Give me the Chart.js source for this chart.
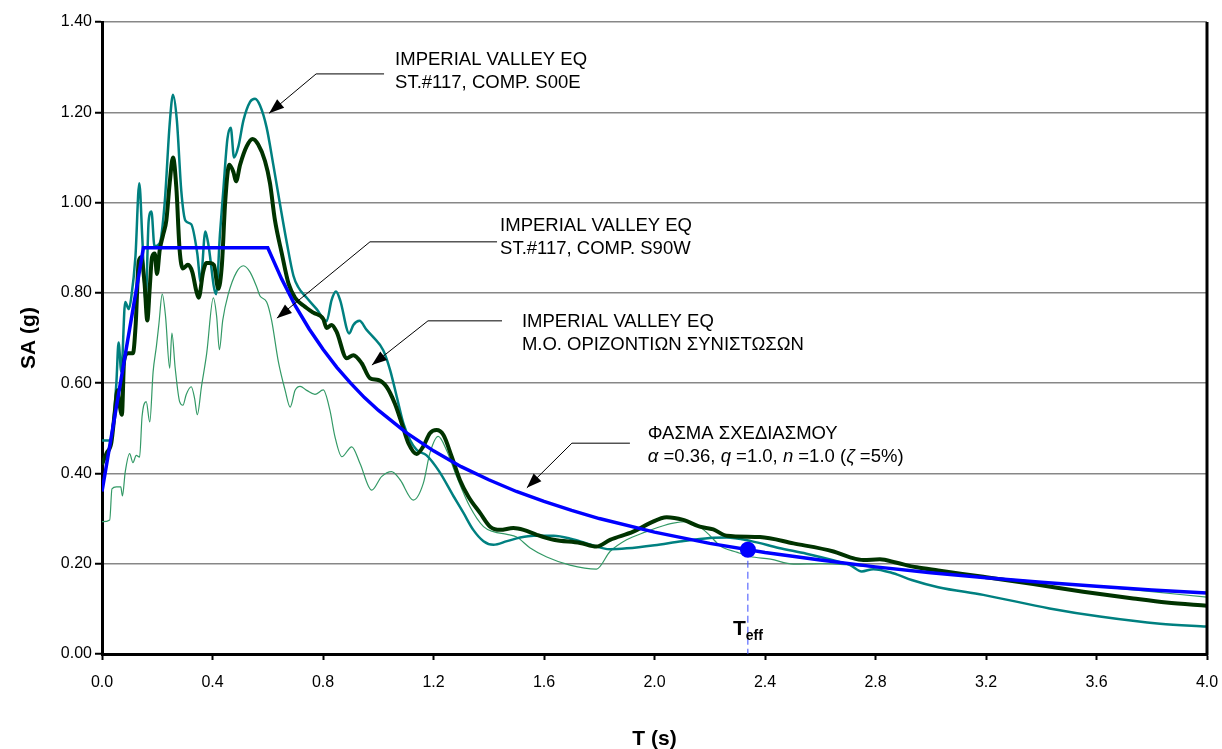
<!DOCTYPE html>
<html>
<head>
<meta charset="utf-8">
<script src="https://cdn.jsdelivr.net/npm/chart.js@4.4.0/dist/chart.umd.min.js"></script>
<style>
  html, body { margin: 0; padding: 0; background: #fff; }
  #wrap { width: 1222px; height: 749px; position: relative; }
</style>
</head>
<body>
<div id="wrap"><canvas id="chart"></canvas></div>
<script>
// ── Data ──────────────────────────────────────────────────────
const xTicks = [0, 0.4, 0.8, 1.2, 1.6, 2.0, 2.4, 2.8, 3.2, 3.6, 4.0];
const yTicks = [0, 0.2, 0.4, 0.6, 0.8, 1.0, 1.2, 1.4];

// Imperial Valley, St.#117, comp. S00E
const s00eT  = [0.000, 0.028, 0.040, 0.052, 0.060, 0.070, 0.084, 0.097, 0.106, 0.121, 0.135, 0.146, 0.158, 0.169, 0.179, 0.190, 0.209, 0.227, 0.245, 0.257, 0.271, 0.287, 0.302, 0.323, 0.345, 0.357, 0.374, 0.384, 0.413, 0.427, 0.439, 0.454, 0.466, 0.478, 0.494, 0.512, 0.536, 0.554, 0.572, 0.596, 0.620, 0.645, 0.669, 0.693, 0.710, 0.741, 0.777, 0.813, 0.831, 0.847, 0.862, 0.895, 0.910, 0.932, 0.958, 0.982, 1.018, 1.043, 1.067, 1.091, 1.115, 1.139, 1.175, 1.220, 1.272, 1.308, 1.344, 1.381, 1.417, 1.466, 1.514, 1.562, 1.635, 1.700, 1.760, 1.839, 1.900, 2.000, 2.100, 2.200, 2.261, 2.350, 2.450, 2.550, 2.650, 2.708, 2.750, 2.792, 2.864, 2.931, 3.027, 3.190, 3.430, 3.612, 3.830, 4.000];
const s00eSA = [0.473, 0.473, 0.510, 0.600, 0.690, 0.625, 0.780, 0.764, 0.790, 0.880, 1.043, 0.920, 0.780, 0.960, 0.980, 0.903, 0.910, 1.000, 1.174, 1.239, 1.182, 1.026, 0.960, 0.952, 0.887, 0.825, 0.936, 0.911, 0.797, 0.930, 1.026, 1.141, 1.166, 1.100, 1.125, 1.182, 1.223, 1.230, 1.215, 1.166, 1.084, 0.994, 0.911, 0.838, 0.813, 0.789, 0.764, 0.737, 0.784, 0.803, 0.784, 0.710, 0.729, 0.738, 0.718, 0.702, 0.673, 0.629, 0.570, 0.511, 0.474, 0.452, 0.440, 0.405, 0.350, 0.313, 0.275, 0.250, 0.242, 0.250, 0.258, 0.262, 0.262, 0.255, 0.244, 0.232, 0.234, 0.241, 0.250, 0.257, 0.258, 0.250, 0.235, 0.222, 0.207, 0.197, 0.183, 0.188, 0.179, 0.164, 0.148, 0.131, 0.101, 0.083, 0.067, 0.061];

// Imperial Valley, St.#117, comp. S90W
const s90wT  = [0.000, 0.028, 0.036, 0.052, 0.068, 0.074, 0.084, 0.100, 0.112, 0.124, 0.136, 0.145, 0.160, 0.173, 0.185, 0.197, 0.206, 0.218, 0.230, 0.245, 0.253, 0.265, 0.281, 0.293, 0.305, 0.323, 0.335, 0.345, 0.360, 0.379, 0.403, 0.415, 0.425, 0.437, 0.457, 0.487, 0.512, 0.536, 0.560, 0.572, 0.596, 0.614, 0.638, 0.663, 0.681, 0.699, 0.717, 0.741, 0.771, 0.801, 0.825, 0.843, 0.868, 0.904, 0.934, 0.976, 1.012, 1.048, 1.079, 1.127, 1.163, 1.187, 1.217, 1.247, 1.284, 1.332, 1.381, 1.417, 1.466, 1.501, 1.550, 1.610, 1.694, 1.790, 1.839, 1.899, 1.971, 2.020, 2.068, 2.116, 2.164, 2.201, 2.237, 2.300, 2.346, 2.420, 2.503, 2.600, 2.708, 2.800, 3.000, 3.200, 3.400, 3.600, 3.800, 4.000];
const s90wSA = [0.293, 0.297, 0.366, 0.370, 0.370, 0.350, 0.403, 0.444, 0.424, 0.440, 0.436, 0.526, 0.559, 0.514, 0.625, 0.682, 0.731, 0.797, 0.748, 0.633, 0.711, 0.633, 0.559, 0.551, 0.575, 0.592, 0.567, 0.530, 0.592, 0.666, 0.789, 0.748, 0.674, 0.739, 0.797, 0.846, 0.860, 0.846, 0.813, 0.793, 0.780, 0.739, 0.649, 0.584, 0.547, 0.584, 0.593, 0.584, 0.575, 0.585, 0.540, 0.482, 0.437, 0.459, 0.422, 0.363, 0.393, 0.404, 0.386, 0.341, 0.378, 0.445, 0.482, 0.452, 0.393, 0.326, 0.282, 0.271, 0.265, 0.259, 0.235, 0.215, 0.197, 0.188, 0.227, 0.253, 0.271, 0.282, 0.290, 0.293, 0.282, 0.262, 0.240, 0.225, 0.216, 0.210, 0.199, 0.200, 0.197, 0.192, 0.182, 0.171, 0.160, 0.150, 0.138, 0.126];

// Mean of horizontal components (Μ.Ο. οριζοντίων συνιστωσών)
const meanT  = [0.000, 0.016, 0.034, 0.046, 0.056, 0.064, 0.072, 0.080, 0.094, 0.112, 0.122, 0.133, 0.142, 0.154, 0.164, 0.173, 0.181, 0.191, 0.199, 0.209, 0.221, 0.233, 0.245, 0.257, 0.269, 0.281, 0.293, 0.311, 0.327, 0.341, 0.350, 0.366, 0.378, 0.391, 0.405, 0.421, 0.434, 0.446, 0.461, 0.476, 0.485, 0.500, 0.524, 0.545, 0.565, 0.590, 0.608, 0.626, 0.651, 0.675, 0.699, 0.729, 0.765, 0.801, 0.813, 0.831, 0.849, 0.886, 0.910, 0.940, 0.970, 1.000, 1.030, 1.060, 1.085, 1.109, 1.139, 1.163, 1.187, 1.211, 1.236, 1.266, 1.296, 1.326, 1.369, 1.405, 1.441, 1.489, 1.526, 1.574, 1.635, 1.731, 1.790, 1.839, 1.923, 1.983, 2.044, 2.104, 2.164, 2.213, 2.261, 2.382, 2.503, 2.648, 2.708, 2.756, 2.816, 2.877, 2.949, 3.027, 3.190, 3.371, 3.552, 3.733, 3.853, 4.000];
const meanSA = [0.420, 0.444, 0.469, 0.534, 0.584, 0.551, 0.530, 0.649, 0.666, 0.666, 0.731, 0.870, 0.879, 0.821, 0.739, 0.813, 0.879, 0.887, 0.842, 0.895, 0.928, 0.961, 1.043, 1.100, 1.034, 0.895, 0.854, 0.862, 0.846, 0.805, 0.789, 0.846, 0.866, 0.866, 0.862, 0.809, 0.862, 1.002, 1.084, 1.067, 1.047, 1.084, 1.125, 1.141, 1.129, 1.092, 1.043, 0.961, 0.887, 0.821, 0.789, 0.772, 0.756, 0.742, 0.722, 0.729, 0.714, 0.655, 0.662, 0.644, 0.611, 0.607, 0.592, 0.555, 0.511, 0.467, 0.443, 0.460, 0.489, 0.496, 0.485, 0.437, 0.385, 0.349, 0.312, 0.282, 0.275, 0.279, 0.275, 0.264, 0.253, 0.246, 0.238, 0.253, 0.271, 0.290, 0.303, 0.297, 0.282, 0.276, 0.262, 0.259, 0.245, 0.227, 0.214, 0.208, 0.210, 0.202, 0.192, 0.185, 0.171, 0.155, 0.138, 0.123, 0.114, 0.107];

// Design spectrum (Φάσμα σχεδιασμού)
const designT  = [0.00, 0.15, 0.60, 0.65, 0.70, 0.75, 0.80, 0.85, 0.90, 0.95, 1.00, 1.10, 1.20, 1.30, 1.40, 1.50, 1.60, 1.70, 1.80, 2.00, 2.20, 2.40, 2.60, 2.80, 3.00, 3.20, 3.40, 3.60, 3.80, 4.00];
const designSA = [0.360, 0.900, 0.900, 0.831, 0.771, 0.720, 0.675, 0.635, 0.600, 0.568, 0.540, 0.491, 0.450, 0.415, 0.386, 0.360, 0.338, 0.318, 0.300, 0.270, 0.245, 0.225, 0.208, 0.193, 0.180, 0.169, 0.159, 0.150, 0.142, 0.135];

// Effective period marker
const teffT  = [2.338];
const teffSA = [0.231];

const toPts = (xs, ys) => xs.map((x, i) => ({ x: x, y: ys[i] }));

// ── Annotations (leader lines, in data units) ─────────────────
const FONT = '"Liberation Sans", Arial, Helvetica, sans-serif';
const notes = [
    { at: [1.061, 1.316], lines: [[{ t: 'IMPERIAL VALLEY EQ' }], [{ t: 'ST.#117, COMP. S00E' }]],
      leader: [[1.021, 1.285], [0.775, 1.285], [0.605, 1.198]] },
    { at: [1.441, 0.948], lines: [[{ t: 'IMPERIAL VALLEY EQ' }], [{ t: 'ST.#117, COMP. S90W' }]],
      leader: [[1.430, 0.913], [0.970, 0.913], [0.633, 0.744]] },
    { at: [1.520, 0.736], lines: [[{ t: 'IMPERIAL VALLEY EQ' }], [{ t: 'M.O. ΟΡΙΖΟΝΤΙΩΝ ΣΥΝΙΣΤΩΣΩΝ' }]],
      leader: [[1.448, 0.738], [1.180, 0.738], [0.977, 0.640]] },
    { at: [1.976, 0.487], lines: [[{ t: 'ΦΑΣΜΑ ΣΧΕΔΙΑΣΜΟΥ' }],
        [{ t: 'α', i: 1 }, { t: ' =0.36, ' }, { t: 'q', i: 1 }, { t: ' =1.0, ' }, { t: 'n', i: 1 }, { t: ' =1.0 (' }, { t: 'ζ', i: 1 }, { t: ' =5%)' }]],
      leader: [[1.911, 0.467], [1.701, 0.467], [1.538, 0.368]] }
];

function arrowHead(ctx, x0, y0, x1, y1) {
    const a = Math.atan2(y1 - y0, x1 - x0);
    const len = 15, half = 5.5;
    ctx.beginPath();
    ctx.moveTo(x1, y1);
    ctx.lineTo(x1 - len * Math.cos(a) + half * Math.sin(a), y1 - len * Math.sin(a) - half * Math.cos(a));
    ctx.lineTo(x1 - len * Math.cos(a) - half * Math.sin(a), y1 - len * Math.sin(a) + half * Math.cos(a));
    ctx.closePath();
    ctx.fill();
}

const annotationPlugin = {
    id: 'annotations',
    afterDraw(chart) {
        const { ctx, chartArea, scales: { x, y } } = chart;
        ctx.save();

        // right frame line of the plot area
        ctx.strokeStyle = '#000';
        ctx.lineWidth = 3;
        ctx.beginPath();
        ctx.moveTo(chartArea.right, chartArea.top);
        ctx.lineTo(chartArea.right, chartArea.bottom + 1.5);
        ctx.stroke();

        ctx.fillStyle = '#000';
        ctx.lineWidth = 1;
        ctx.textBaseline = 'middle';
        ctx.textAlign = 'left';

        notes.forEach(n => {
            const pts = n.leader.map(p => [x.getPixelForValue(p[0]), y.getPixelForValue(p[1])]);
            ctx.beginPath();
            ctx.moveTo(pts[0][0], pts[0][1]);
            pts.slice(1).forEach(p => ctx.lineTo(p[0], p[1]));
            ctx.stroke();
            const a = pts[pts.length - 2], b = pts[pts.length - 1];
            arrowHead(ctx, a[0], a[1], b[0], b[1]);

            let tx = x.getPixelForValue(n.at[0]);
            let ty = y.getPixelForValue(n.at[1]);
            n.lines.forEach((segs, li) => {
                let cx = tx;
                segs.forEach(s => {
                    ctx.font = (s.i ? 'italic ' : '') + '18.5px ' + FONT;
                    ctx.fillText(s.t, cx, ty + li * 23);
                    cx += ctx.measureText(s.t).width;
                });
            });
        });

        // T_eff label under the marker
        const px = x.getPixelForValue(teffT[0]);
        ctx.textBaseline = 'alphabetic';
        ctx.font = 'bold 21px ' + FONT;
        const wT = ctx.measureText('T').width;
        ctx.font = 'bold 14px ' + FONT;
        const wE = ctx.measureText('eff').width;
        const left = px - (wT + wE) / 2;
        ctx.font = 'bold 21px ' + FONT;
        ctx.fillText('T', left, 635);
        ctx.font = 'bold 14px ' + FONT;
        ctx.fillText('eff', left + wT, 640);
        ctx.restore();
    }
};

// ── Chart ─────────────────────────────────────────────────────
const ctx = document.getElementById('chart').getContext('2d');
new Chart(ctx, {
    type: 'line',
    data: {
        datasets: [
            { label: 'Teff', data: toPts(teffT, teffSA), order: 0, showLine: false,
              pointRadius: 8, pointBackgroundColor: '#0000ff', pointBorderColor: '#0000ff', pointBorderWidth: 0 },
            { label: 'Design', data: toPts(designT, designSA), order: 1,
              borderColor: '#0000ff', borderWidth: 3.5, pointRadius: 0, tension: 0 },
            { label: 'Teff line', data: [{ x: teffT[0], y: teffSA[0] }, { x: teffT[0], y: 0 }], order: 2,
              borderColor: '#3b4dff', borderWidth: 1, borderDash: [7, 4], pointRadius: 0 },
            { label: 'Mean', data: toPts(meanT, meanSA), order: 3,
              borderColor: '#003300', borderWidth: 4, pointRadius: 0, cubicInterpolationMode: 'monotone' },
            { label: 'S00E', data: toPts(s00eT, s00eSA), order: 4,
              borderColor: '#008080', borderWidth: 2.5, pointRadius: 0, cubicInterpolationMode: 'monotone' },
            { label: 'S90W', data: toPts(s90wT, s90wSA), order: 5,
              borderColor: '#339966', borderWidth: 1.2, pointRadius: 0, cubicInterpolationMode: 'monotone' }
        ]
    },
    options: {
        responsive: true,
        maintainAspectRatio: false,
        animation: false,
        devicePixelRatio: 1,
        layout: { padding: { left: 0, right: 15, top: 22, bottom: 0 } },
        plugins: { legend: { display: false }, tooltip: { enabled: false } },
        scales: {
            x: {
                type: 'linear', min: 0, max: 4,
                afterFit: s => { s.height = 95; s.paddingRight = 0; s.paddingLeft = 0; },
                afterBuildTicks: s => { s.ticks = xTicks.map(v => ({ value: v })); },
                ticks: { callback: v => Number(v).toFixed(1), color: '#000', padding: 13,
                         font: { family: FONT, size: 16 }, maxRotation: 0 },
                grid: { drawOnChartArea: false, drawTicks: true, tickLength: 6, tickColor: '#000', tickWidth: 2 },
                border: { color: '#000', width: 3 },
                title: { display: true, text: 'T (s)', color: '#000', padding: { top: 0, bottom: -3 },
                         font: { family: FONT, size: 21, weight: 'bold' } }
            },
            y: {
                min: 0, max: 1.4,
                afterFit: s => { s.width = 102; s.paddingTop = 0; s.paddingBottom = 0; },
                afterBuildTicks: s => { s.ticks = yTicks.map(v => ({ value: v })); },
                ticks: { callback: v => Number(v).toFixed(2), color: '#000', padding: 3,
                         font: { family: FONT, size: 16 } },
                grid: { color: '#878787', lineWidth: 1.5, tickLength: 7, tickColor: '#000', tickWidth: 2 },
                border: { color: '#000', width: 3 },
                title: { display: true, text: 'SA (g)', color: '#000', padding: { top: 17, bottom: 0 },
                         font: { family: FONT, size: 21, weight: 'bold' } }
            }
        }
    },
    plugins: [annotationPlugin]
});
</script>
</body>
</html>
